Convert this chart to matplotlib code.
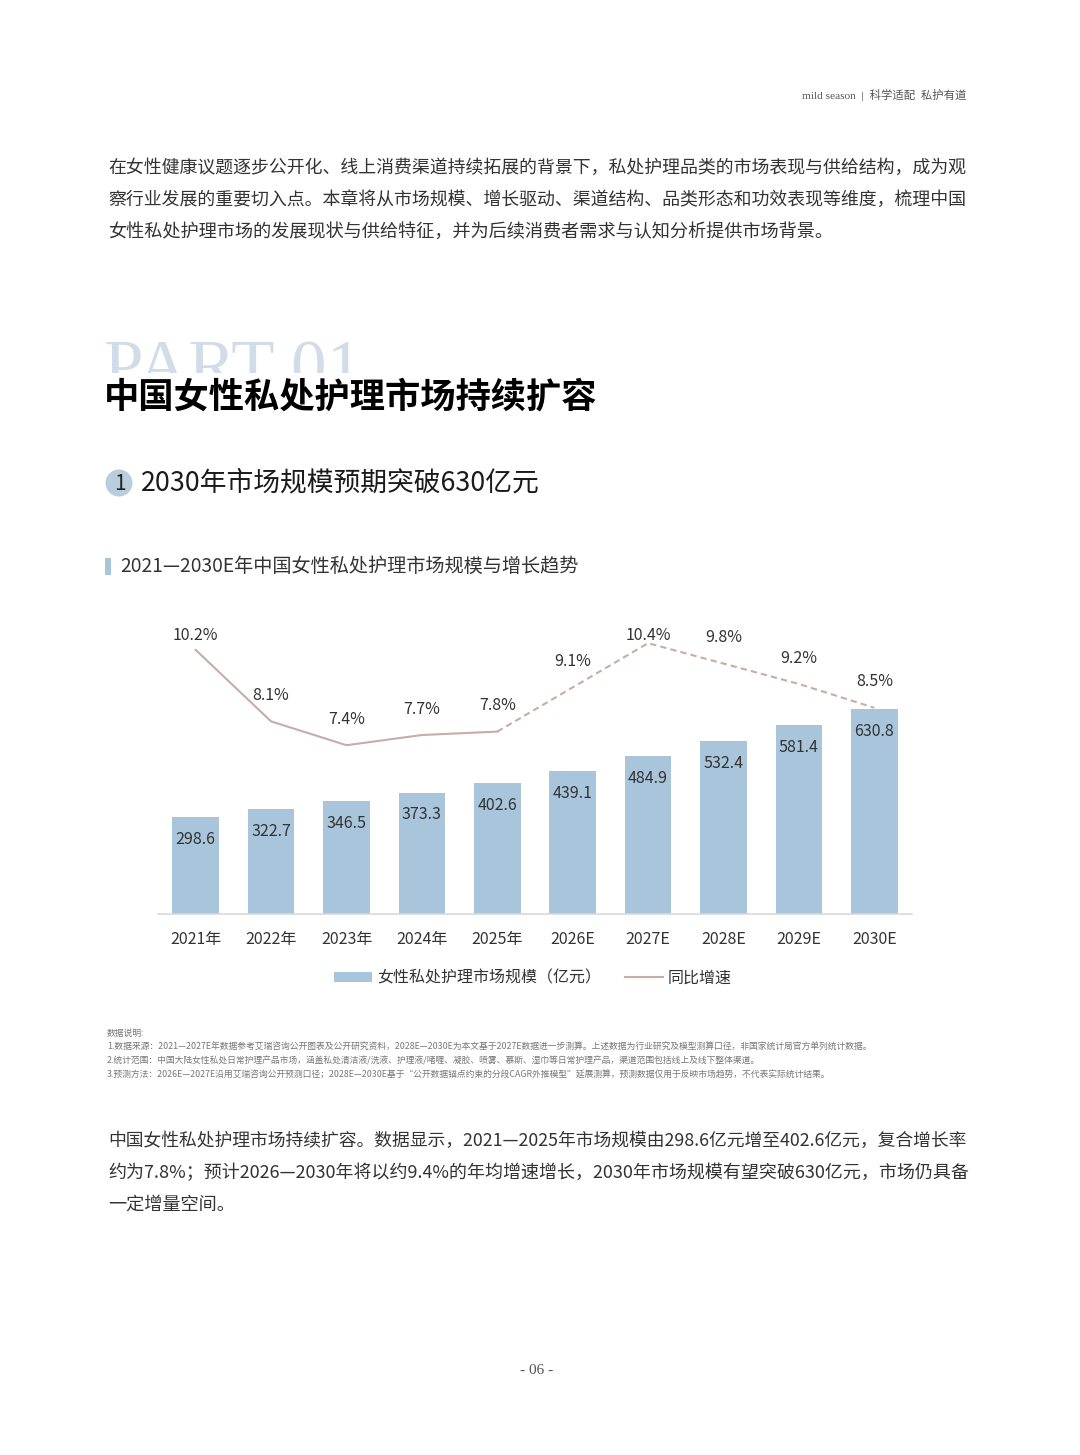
import matplotlib.pyplot as plt
from matplotlib.patches import Rectangle, Circle, Patch
from matplotlib.lines import Line2D

plt.rcParams['font.family'] = ['Noto Sans CJK SC', 'DejaVu Sans']

years = ['2021年', '2022年', '2023年', '2024年', '2025年',
         '2026E', '2027E', '2028E', '2029E', '2030E']
market = [298.6, 322.7, 346.5, 373.3, 402.6, 439.1, 484.9, 532.4, 581.4, 630.8]
growth = [10.2, 8.1, 7.4, 7.7, 7.8, 9.1, 10.4, 9.8, 9.2, 8.5]
n_actual = 5  # 2021-2025 actual, rest forecast

intro = [
    '在女性健康议题逐步公开化、线上消费渠道持续拓展的背景下，私处护理品类的市场表现与供给结构，成为观',
    '察行业发展的重要切入点。本章将从市场规模、增长驱动、渠道结构、品类形态和功效表现等维度，梳理中国',
    '女性私处护理市场的发展现状与供给特征，并为后续消费者需求与认知分析提供市场背景。',
]
notes = [
    '数据说明:',
    '1.数据来源：2021—2027E年数据参考艾瑞咨询公开图表及公开研究资料，2028E—2030E为本文基于2027E数据进一步测算。上述数据为行业研究及模型测算口径，非国家统计局官方单列统计数据。',
    '2.统计范围：中国大陆女性私处日常护理产品市场，涵盖私处清洁液/洗液、护理液/啫喱、凝胶、喷雾、慕斯、湿巾等日常护理产品，渠道范围包括线上及线下整体渠道。',
    '3.预测方法：2026E—2027E沿用艾瑞咨询公开预测口径；2028E—2030E基于“公开数据锚点约束的分段CAGR外推模型”延展测算，预测数据仅用于反映市场趋势，不代表实际统计结果。',
]
summary = [
    '中国女性私处护理市场持续扩容。数据显示，2021—2025年市场规模由298.6亿元增至402.6亿元，复合增长率',
    '约为7.8%；预计2026—2030年将以约9.4%的年均增速增长，2030年市场规模有望突破630亿元，市场仍具备',
    '一定增量空间。',
]

W, H = 1080, 1455
BAR = '#a9c5db'
LINE = '#c8aca6'
TXT = '#333333'

fig = plt.figure(figsize=(W / 100, H / 100), dpi=100)
fig.patch.set_facecolor('white')
renderer = fig.canvas.get_renderer()


def fx(px):
    return px / W


def fy(py):
    return 1 - py / H


def paragraph(lines, x0, y0, width, size):
    # full lines are stretched to the text block width, like justified text
    for i, line in enumerate(lines):
        t = fig.text(fx(x0), fy(y0 + 32 * i), line, ha='left', va='center',
                     fontsize=size, color=TXT)
        if i < len(lines) - 1:
            w = t.get_window_extent(renderer).width
            t.set_fontsize(size * width / w)


# header
fig.text(fx(966), fy(95), 'mild season  |  科学适配  私护有道', ha='right', va='center',
         fontsize=8.2, color='#555555', family=['Liberation Serif', 'Noto Sans CJK SC'])

paragraph(intro, 108, 168, 857, 13.1)

# PART 01 + section title
fig.text(fx(104), fy(340), 'PART 01', ha='left', va='top', fontsize=51, color='#d0dce7',
         family='Liberation Serif', zorder=1)
fig.patches.append(Rectangle((fx(95), fy(425)), fx(520), (425 - 373) / H,
                             transform=fig.transFigure, facecolor='white', edgecolor='none', zorder=2))
fig.text(fx(104), fy(397), '中国女性私处护理市场持续扩容', ha='left', va='center',
         fontsize=25.4, fontweight='bold', color='black', zorder=3)

fig.patches.append(Circle((119 / 100, (H - 483) / 100), 0.135, transform=fig.dpi_scale_trans,
                          facecolor='#b9cddd', edgecolor='none'))
fig.text(fx(120), fy(484), '1', ha='center', va='center', fontsize=15, color='#222222')
fig.text(fx(141), fy(483), '2030年市场规模预期突破630亿元', ha='left', va='center',
         fontsize=19.3, color='#1a1a1a', fontweight='medium')

# chart title
fig.patches.append(Rectangle((fx(105), fy(575)), fx(6), 17 / H,
                             transform=fig.transFigure, facecolor=BAR, edgecolor='none'))
fig.text(fx(120), fy(566), '2021—2030E年中国女性私处护理市场规模与增长趋势', ha='left', va='center',
         fontsize=13.8, color=TXT)

# chart
ax = fig.add_axes([fx(158), fy(914), fx(912 - 158), (914 - 620) / H])
x = list(range(len(years)))
ax.bar(x, market, width=0.62, color=BAR, zorder=2)
for xi, v in zip(x, market):
    ax.annotate(f'{v:.1f}', (xi, v), xytext=(0, -16), textcoords='offset points',
                ha='center', va='center', fontsize=11.5, color=TXT, zorder=3)
ax.set_xlim(-0.5, 9.5)
ax.set_ylim(0, 905)
ax.set_xticks(x)
ax.set_xticklabels(years, fontsize=11.5, color=TXT)
ax.tick_params(axis='x', length=0, pad=12)
ax.set_yticks([])
for s in ['top', 'right', 'left']:
    ax.spines[s].set_visible(False)
ax.spines['bottom'].set_color('#d9d9d9')
ax.spines['bottom'].set_linewidth(1.2)

ax2 = ax.twinx()
ax2.set_ylim(2.44, 11.08)
ax2.plot(x[:n_actual], growth[:n_actual], color=LINE, lw=1.5)
ax2.plot(x[n_actual - 1:], growth[n_actual - 1:], color=LINE, lw=1.5, ls=(0, (3, 2)))
for xi, v in zip(x, growth):
    ly = min(v + 0.76, 10.62)
    ax2.text(xi, ly, f'{v}%', ha='center', va='center', fontsize=11.5, color=TXT)
ax2.set_yticks([])
for s in ['top', 'right', 'left', 'bottom']:
    ax2.spines[s].set_visible(False)

handles = [Patch(facecolor=BAR, edgecolor='none'),
           Line2D([0], [0], color=LINE, lw=1.5)]
fig.legend(handles, ['女性私处护理市场规模（亿元）', '同比增速'], loc='center',
           bbox_to_anchor=(fx(533), fy(978)), ncol=2, frameon=False, fontsize=11.5,
           handlelength=2.4, handleheight=0.6, columnspacing=1.5, handletextpad=0.3,
           labelcolor=TXT)

# notes
for i, line in enumerate(notes):
    fig.text(fx(107), fy(1033 + 14 * i), line, ha='left', va='center', fontsize=6.35, color='#777777')

paragraph(summary, 108, 1141, 857, 13.1)

fig.text(fx(537), fy(1371), '- 06 -', ha='center', va='center', fontsize=11, color='#555555',
         family='Liberation Serif')

fig.savefig('out.png', dpi=100)
